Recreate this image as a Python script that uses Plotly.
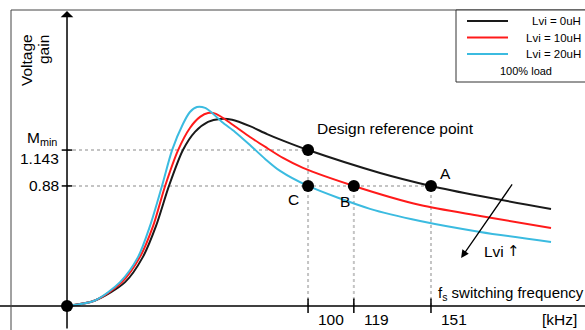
import plotly.graph_objects as go

# ---------------- data (frequency in kHz, voltage gain) ----------------
f_black = [0, 11.6, 24.1, 31.5, 36.9, 42.3, 48.1, 53.1, 58.5, 63.5, 68.5, 75.9, 83.0, 89.6, 100, 129.9, 151, 171.4, 200.8]
g_black = [0, 0.04, 0.175, 0.36, 0.585, 0.88, 1.143, 1.276, 1.349, 1.371, 1.365, 1.318, 1.26, 1.212, 1.143, 0.975, 0.88, 0.806, 0.711]

f_red = [0, 11.6, 22.8, 30.3, 35.7, 40.7, 46.1, 51.0, 55.2, 58.5, 61.8, 68.9, 75.9, 83.0, 89.6, 97.9, 119, 146.5, 171.4, 200.8]
g_red = [0, 0.04, 0.175, 0.36, 0.585, 0.88, 1.143, 1.305, 1.386, 1.415, 1.408, 1.327, 1.239, 1.158, 1.085, 1.012, 0.88, 0.74, 0.66, 0.572]

f_cyan = [0, 11.6, 22.0, 29.5, 34.4, 39.4, 43.6, 48.1, 51.0, 53.9, 57.3, 60.2, 64.3, 69.7, 75.9, 82.2, 88.4, 100, 125.7, 146.5, 171.4, 200.8]
g_cyan = [0, 0.04, 0.175, 0.36, 0.585, 0.88, 1.143, 1.334, 1.422, 1.459, 1.452, 1.415, 1.349, 1.276, 1.18, 1.078, 0.99, 0.88, 0.712, 0.623, 0.543, 0.469]

series_names = ["Lvi = 0uH", "Lvi = 10uH", "Lvi = 20uH"]
series_colors = ["#1a1a1a", "#ff1a1a", "#3bbbe0"]

# key points
pt_labels = ["", "", "C", "B", "A"]
pt_f = [0, 100, 100, 119, 151]
pt_g = [0, 1.143, 0.88, 0.88, 0.88]

x_tick_vals = [100, 119, 151]
x_tick_text = ["100", "119", "151"]
y_tick_vals = [1.143, 0.88]
y_tick_text = ["1.143", "0.88"]

W, H = 585, 330
FONT = "Liberation Sans, Arial, sans-serif"
FS = 15.5

x_range = [-27.8, 214.9]
y_range = [-0.176, 2.243]


def px(x):
    return x / W


def py(y):
    return 1 - y / H


def txt(**kw):
    base = dict(showarrow=False, xanchor="center", yanchor="middle",
                font=dict(size=FS, color="black", family=FONT))
    base.update(kw)
    fig.add_annotation(**base)


fig = go.Figure()

# guide lines (dashed gray)
guide = dict(color="#c4c4c4", width=2, dash="dot")
fig.add_shape(type="line", x0=0, x1=pt_f[1], y0=pt_g[1], y1=pt_g[1], line=guide, layer="below")
fig.add_shape(type="line", x0=0, x1=pt_f[4], y0=pt_g[2], y1=pt_g[2], line=guide, layer="below")
fig.add_shape(type="line", x0=pt_f[1], x1=pt_f[1], y0=0, y1=pt_g[1], line=guide, layer="below")
fig.add_shape(type="line", x0=pt_f[3], x1=pt_f[3], y0=0, y1=pt_g[3], line=guide, layer="below")
fig.add_shape(type="line", x0=pt_f[4], x1=pt_f[4], y0=0, y1=pt_g[4], line=guide, layer="below")

# curves
for fx, gy, name, col in zip([f_black, f_red, f_cyan], [g_black, g_red, g_cyan], series_names, series_colors):
    fig.add_trace(go.Scatter(x=fx, y=gy, mode="lines", name=name,
                             line=dict(color=col, width=2, shape="spline", smoothing=0.8),
                             showlegend=False, hoverinfo="skip"))

# key points
fig.add_trace(go.Scatter(x=pt_f, y=pt_g, mode="markers",
                         marker=dict(color="black", size=12), showlegend=False, hoverinfo="skip"))

# axes (drawn)
fig.add_shape(type="line", xref="paper", yref="y", x0=0, x1=1, y0=0, y1=0,
              line=dict(color="black", width=1.5))
fig.add_annotation(x=0, y=(306 - 11) / 136.4, ax=0, ay=y_range[0], axref="x", ayref="y",
                   xref="x", yref="y", showarrow=True, arrowhead=1, arrowsize=1.4,
                   arrowwidth=1.5, arrowcolor="black", text="")

# ticks
for v in x_tick_vals:
    fig.add_shape(type="line", x0=v, x1=v, y0=0.055, y1=-0.052, line=dict(color="black", width=1.5))
for v in y_tick_vals:
    fig.add_shape(type="line", x0=-2.2, x1=2.2, y0=v, y1=v, line=dict(color="black", width=1.5))

# tick labels
for v, t in zip(x_tick_vals, x_tick_text):
    txt(x=v, y=-0.1, text=t, xanchor="left", xshift=8)
txt(x=px(559), y=py(319), xref="paper", yref="paper", text="[kHz]")
for v, t in zip(y_tick_vals, y_tick_text):
    txt(x=px(61), y=v, yref="y", xref="paper", text=t, xanchor="right",
        yshift=-8 if t == "1.143" else 0)
txt(x=px(59), y=py(138), xref="paper", yref="paper", text="M<sub>min</sub>", xanchor="right")

# axis titles
txt(x=px(26), y=py(60), xref="paper", yref="paper", text="Voltage", textangle=-90)
txt(x=px(44), y=py(50), xref="paper", yref="paper", text="gain", textangle=-90)
txt(x=px(436), y=py(293), xref="paper", yref="paper", xanchor="left",
    text="f<sub>s</sub> switching frequency", font=dict(size=15, color="black", family=FONT))

# point annotations
txt(x=px(395), y=py(128), xref="paper", yref="paper", text="Design reference point")
for lbl, fx, gy in zip(pt_labels, pt_f, pt_g):
    if not lbl:
        continue
    off = {"C": (-15, -14), "B": (-9, -16), "A": (15, 12)}[lbl]
    txt(x=fx, y=gy, text=lbl, xshift=off[0], yshift=off[1])

# Lvi arrow
fig.add_annotation(x=163.5, y=0.352, ax=185.1, ay=0.902, axref="x", ayref="y", xref="x", yref="y",
                   showarrow=True, arrowhead=2, arrowsize=1.2, arrowwidth=1.3, arrowcolor="black", text="")
txt(x=px(482), y=py(251), xref="paper", yref="paper", text="Lvi", xanchor="left")
txt(x=px(505), y=py(251), xref="paper", yref="paper", text="\u2191", xanchor="left",
    font=dict(size=15, color="black", family="DejaVu Sans"))

# outer frame
fig.add_shape(type="line", xref="paper", yref="paper", x0=px(11), x1=px(11), y0=0, y1=py(10),
              line=dict(color="#444", width=1))
fig.add_shape(type="line", xref="paper", yref="paper", x0=px(11), x1=1, y0=py(10), y1=py(10),
              line=dict(color="#444", width=1))

# legend box
fig.add_shape(type="rect", xref="paper", yref="paper", x0=px(456), x1=px(600), y0=py(82), y1=py(10),
              line=dict(color="#333", width=1), fillcolor="white")
for i, (name, col) in enumerate(zip(series_names, series_colors)):
    yy = 21 + 16.5 * i
    fig.add_shape(type="line", xref="paper", yref="paper", x0=px(467), x1=px(508), y0=py(yy), y1=py(yy),
                  line=dict(color=col, width=2))
    txt(x=px(583), y=py(yy), xref="paper", yref="paper", xanchor="right", text=name,
        font=dict(size=11.5, color="black", family=FONT))
txt(x=px(526), y=py(71), xref="paper", yref="paper", text="100% load",
    font=dict(size=11, color="black", family=FONT))

fig.update_layout(
    width=W, height=H, margin=dict(l=0, r=0, t=0, b=0),
    paper_bgcolor="white", plot_bgcolor="white",
    xaxis=dict(range=x_range, visible=False, fixedrange=True),
    yaxis=dict(range=y_range, visible=False, fixedrange=True),
    showlegend=False,
)

fig.write_html("out.html")
